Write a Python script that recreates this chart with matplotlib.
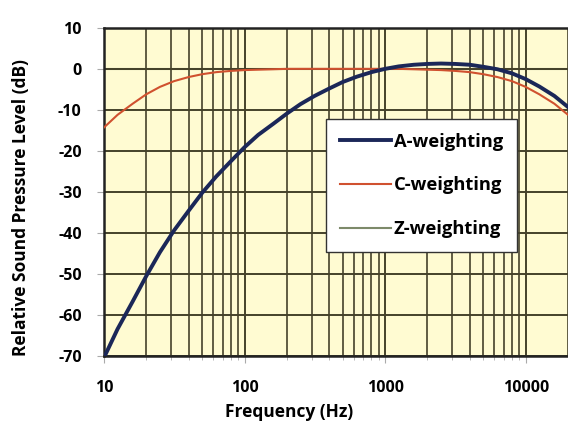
import matplotlib
matplotlib.use('Agg')
import matplotlib.pyplot as plt
import numpy as np

# Frequencies (Hz) and weighting curves (dB)
freq = [10, 12.5, 16, 20, 25, 31.5, 40, 50, 63, 80, 100, 125, 160, 200, 250, 315,
        400, 500, 630, 800, 1000, 1250, 1600, 2000, 2500, 3150, 4000, 5000, 6300,
        8000, 10000, 12500, 16000, 20000]
a_weight = [-70.4, -63.4, -56.7, -50.5, -44.7, -39.4, -34.6, -30.2, -26.2, -22.5,
            -19.1, -16.1, -13.4, -10.9, -8.6, -6.6, -4.8, -3.2, -1.9, -0.8, 0.0,
            0.6, 1.0, 1.2, 1.3, 1.2, 1.0, 0.5, -0.1, -1.1, -2.5, -4.3, -6.6, -9.3]
c_weight = [-14.3, -11.2, -8.5, -6.2, -4.4, -3.0, -2.0, -1.3, -0.8, -0.5, -0.3,
            -0.2, -0.1, 0.0, 0.0, 0.0, 0.0, 0.0, 0.0, 0.0, 0.0, 0.0, -0.1, -0.2,
            -0.3, -0.5, -0.8, -1.3, -2.0, -3.0, -4.4, -6.2, -8.5, -11.2]
z_weight = [0.0] * len(freq)

x_ticks = [10, 100, 1000, 10000]
y_ticks = [-70, -60, -50, -40, -30, -20, -10, 0, 10]

plt.rcParams['font.family'] = ['Open Sans', 'DejaVu Sans']
plt.rcParams['font.weight'] = 'bold'

grid_col = '#45422a'

fig = plt.figure(figsize=(5.68, 4.28), dpi=100)
ax = fig.add_axes([0.183, 0.168, 0.817, 0.767])
ax.set_facecolor('#fffbd2')

ax.set_xscale('log')
ax.set_xlim(10, 20000)
ax.set_ylim(-70, 10)

# Z line sits under the 0 dB gridline, as in the original
ax.plot(freq, z_weight, color='#7d8a6a', lw=1.5, label='Z-weighting', zorder=0.4)
ax.plot(freq, c_weight, color='#d0512f', lw=1.5, label='C-weighting', zorder=4)
ax.plot(freq, a_weight, color='#1b2758', lw=2.8, label='A-weighting', zorder=5)

ax.set_xticks(x_ticks)
ax.set_xticklabels([str(t) for t in x_ticks])
ax.set_yticks(y_ticks)
ax.set_yticklabels([str(t) for t in y_ticks])
ax.xaxis.set_minor_locator(matplotlib.ticker.LogLocator(base=10, subs=np.arange(2, 10)))
ax.xaxis.set_minor_formatter(matplotlib.ticker.NullFormatter())

ax.grid(True, which='major', axis='both', color=grid_col, lw=1.4)
ax.grid(True, which='minor', axis='x', color=grid_col, lw=1.2)
ax.set_axisbelow(True)

ax.tick_params(axis='both', which='major', labelsize=11.5, length=5, color='#aaaaaa')
ax.tick_params(axis='y', which='major', pad=11)
ax.tick_params(axis='x', which='major', pad=12)
ax.tick_params(axis='x', which='minor', length=3, color='#aaaaaa')
for lab in ax.get_xticklabels() + ax.get_yticklabels():
    lab.set_fontweight('bold')

for s in ['left', 'bottom', 'top']:
    ax.spines[s].set_color('#222222')
    ax.spines[s].set_linewidth(1.8)
ax.spines['right'].set_visible(False)

ax.set_xlabel('Frequency (Hz)', fontsize=12.5, fontweight='bold')
ax.set_ylabel('Relative Sound Pressure Level (dB)', fontsize=12.5, fontweight='bold')
ax.xaxis.set_label_coords(0.399, -0.143)
ax.yaxis.set_label_coords(-0.159, 0.454)

handles, labels = ax.get_legend_handles_labels()
order = [2, 1, 0]
leg = ax.legend([handles[i] for i in order], [labels[i] for i in order],
                loc='upper left', bbox_to_anchor=(0.478, 0.7226),
                fontsize=13.2, frameon=True, fancybox=False, framealpha=1,
                edgecolor='#333333', labelspacing=1.4, handlelength=2.8,
                handletextpad=0.15, borderpad=0.75, borderaxespad=0)
leg.get_frame().set_linewidth(1.0)
for t in leg.get_texts():
    t.set_fontweight('bold')

fig.savefig('out.png', dpi=100)
